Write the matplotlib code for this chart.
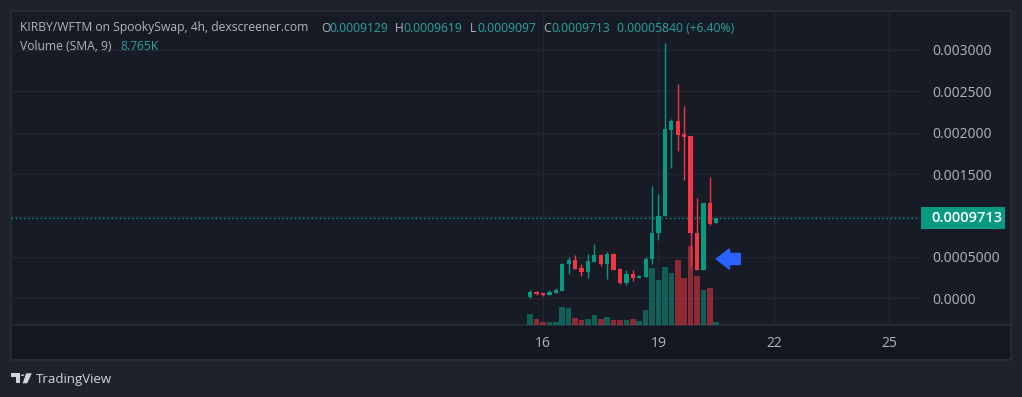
import matplotlib
matplotlib.use("Agg")
import matplotlib.pyplot as plt
import matplotlib.dates as mdates
from matplotlib.patches import Rectangle, Polygon, Circle
from matplotlib.transforms import blended_transform_factory
import pandas as pd

plt.rcParams["font.family"] = ["Open Sans", "DejaVu Sans"]

# ---------------- data ----------------
times = pd.date_range("2024-03-15 16:00", periods=30, freq="4h")
opens = [0.000010, 0.000076, 0.000058, 0.000040, 0.000070, 0.000090, 0.000410, 0.000460,
         0.000370, 0.000320, 0.000440, 0.000520, 0.000410, 0.000540, 0.000350, 0.000185,
         0.000290, 0.000250, 0.000260, 0.000470, 0.000790, 0.001000, 0.002030, 0.002140,
         0.001980, 0.001960, 0.000790, 0.000340, 0.001150, 0.0009129]
highs = [0.000100, 0.000090, 0.000062, 0.000100, 0.000120, 0.000425, 0.000500, 0.000520,
         0.000420, 0.000530, 0.000650, 0.000540, 0.000560, 0.000545, 0.000360, 0.000340,
         0.000340, 0.000280, 0.000500, 0.001360, 0.001260, 0.003088, 0.002160, 0.002590,
         0.002320, 0.001960, 0.001210, 0.001150, 0.001470, 0.0009713]
lows = [0.000005, 0.000045, 0.000030, 0.000035, 0.000068, 0.000090, 0.000290, 0.000350,
        0.000270, 0.000250, 0.000440, 0.000390, 0.000230, 0.000340, 0.000170, 0.000160,
        0.000210, 0.000250, 0.000260, 0.000420, 0.000700, 0.001000, 0.001580, 0.001780,
        0.001430, 0.000390, 0.000340, 0.000340, 0.000880, 0.0009097]
closes = [0.000080, 0.000052, 0.000040, 0.000080, 0.000100, 0.000420, 0.000460, 0.000350,
          0.000320, 0.000450, 0.000520, 0.000410, 0.000540, 0.000340, 0.000185, 0.000290,
          0.000250, 0.000257, 0.000480, 0.000790, 0.001000, 0.002045, 0.002140, 0.001970,
          0.001950, 0.000790, 0.000340, 0.001150, 0.000900, 0.0009713]
volumes = [2100, 1180, 500, 500, 500, 3410, 3100, 1360, 990, 1180, 1860, 1180, 1550, 990,
           990, 870, 1180, 680, 2790, 10540, 8370, 10730, 9610, 12150, 8680, 14760, 9110,
           6450, 6940, 500]

price_ticks = [0.0, 0.0005, 0.001, 0.0015, 0.002, 0.0025, 0.003]
price_labels = ["0.0000", "0.0005000", "", "0.001500", "0.002000", "0.002500", "0.003000"]
day_ticks = [16, 19, 22, 25]

title_main = "KIRBY/WFTM on SpookySwap, 4h, dexscreener.com"
ohlc_legend = [("O", "0.0009129"), ("H", "0.0009619"), ("L", "0.0009097"), ("C", "0.0009713")]
change_text = "0.00005840 (+6.40%)"
vol_legend = ("Volume (SMA, 9)", "8.765K")
arrow_price = 0.000475

# ---------------- style ----------------
W, H = 1022, 397
OUTER = "#1e222d"
PANE = "#171b26"
AXIS_BG = "#131722"
BORDER = "#2a2e39"
GRID = "#222631"
TXT = "#b2b5be"
LEG_GREEN = "#26a69a"
UP = "#089981"
DOWN = "#f23645"

fig = plt.figure(figsize=(W / 100, H / 100), dpi=100, facecolor=OUTER)

def fx(x):
    return x / W

def fy(y):
    return 1 - y / H

# background pane and time strip
fig.add_artist(Rectangle((fx(11), fy(325)), fx(1010) - fx(11), (325 - 11) / H,
                         transform=fig.transFigure, facecolor=PANE, edgecolor="none", zorder=-10))
fig.add_artist(Rectangle((fx(11), fy(359)), fx(1010) - fx(11), (359 - 325) / H,
                         transform=fig.transFigure, facecolor=AXIS_BG, edgecolor="none", zorder=-10))
fig.add_artist(Rectangle((fx(10.5), fy(359.5)), fx(1010.5) - fx(10.5), (359.5 - 10.5) / H,
                         transform=fig.transFigure, facecolor="none", edgecolor=BORDER, lw=1.2, zorder=-9))
fig.add_artist(plt.Line2D([fx(11), fx(1010)], [fy(325), fy(325)], transform=fig.transFigure,
                          color=BORDER, lw=1.2, zorder=-9))

rect = [fx(11), fy(325), fx(920) - fx(11), (325 - 11) / H]
ax_vol = fig.add_axes(rect)
ax = fig.add_axes(rect, sharex=ax_vol)
for a in (ax, ax_vol):
    a.set_facecolor("none")
    for s in a.spines.values():
        s.set_visible(False)

x = mdates.date2num(times)
day0 = mdates.date2num(pd.Timestamp(2024, 3, 16))
px_per_day = 38.5
ax_vol.set_xlim(day0 - 532 / px_per_day, day0 + 377 / px_per_day)

# price scale
ymin, ymax = -26.7 / 82780, 287.3 / 82780
ax.set_ylim(ymin, ymax)
ppx = (ymax - ymin) / 314.0

# volume scale
vmax = max(volumes)
ax_vol.set_ylim(0, vmax * 314 / 79.5)
ax_vol.set_yticks([])

# grid (on lower axes so it sits behind everything)
gtrans = blended_transform_factory(ax_vol.transAxes, ax.transData)
for t in price_ticks:
    ax_vol.plot([0, 1], [t, t], transform=gtrans, color=GRID, lw=1, zorder=0)
ax_vol.set_xticks([mdates.date2num(pd.Timestamp(2024, 3, d)) for d in day_ticks])
ax_vol.set_xticklabels([str(d) for d in day_ticks])
ax_vol.grid(axis="x", color=GRID, lw=1, zorder=0)
ax_vol.tick_params(axis="x", length=0, pad=8, labelcolor=TXT, labelsize=10)
ax.tick_params(axis="x", bottom=False, labelbottom=False)

# volume bars
vcols = [UP if c >= o else DOWN for o, c in zip(opens, closes)]
ax_vol.bar(x, volumes, width=5.6 / px_per_day, color=vcols, alpha=0.55, zorder=2, linewidth=0)

# candles
body_w = 4.3 / px_per_day
for xi, o, h, l, c in zip(x, opens, highs, lows, closes):
    col = UP if c >= o else DOWN
    ax.vlines(xi, l, h, color=col, lw=1.0, zorder=3)
    bottom = min(o, c)
    height = max(abs(c - o), 1.5 * ppx)
    ax.bar(xi, height, bottom=bottom, width=body_w, color=col, linewidth=0, zorder=4)

# last price line
last = closes[-1]
ax.axhline(last, color=UP, lw=1, ls=(0, (1, 2)), zorder=2)

# price axis labels
ax.yaxis.tick_right()
ax.set_yticks(price_ticks)
ax.set_yticklabels(price_labels)
ax.tick_params(axis="y", length=0, pad=8.8, labelcolor=TXT, labelsize=10)

# last price box
btrans = blended_transform_factory(ax.transAxes, ax.transData)
aw = 909.0
ax.add_patch(Rectangle((1 + 1 / aw, last - 11 * ppx), 84 / aw, 22 * ppx, transform=btrans,
                       facecolor=UP, edgecolor="none", clip_on=False, zorder=10))
ax.text(1 + 11.5 / aw, last, f"{last:.7f}", transform=btrans, color="white", fontsize=10.5,
        fontweight="semibold", va="center", ha="left", zorder=11, clip_on=False)

# arrow annotation
ax.annotate("", xy=(x[-1], arrow_price), xytext=(x[-1] + 24 / px_per_day, arrow_price),
            arrowprops=dict(arrowstyle="simple,head_length=9.5,head_width=14.5,tail_width=8",
                            mutation_scale=1, color="#2962ff", shrinkA=0, shrinkB=0),
            zorder=12)

# legend texts
fs = 8.75
fig.text(fx(20), fy(28), title_main, color=TXT, fontsize=fs, va="center", ha="left")
xs = [(321, 329.5), (395, 403.5), (470, 477.5), (543, 551.5)]
for (lab, val), (xl, xv) in zip(ohlc_legend, xs):
    fig.text(fx(xl), fy(28), lab, color=TXT, fontsize=fs, va="center", ha="left")
    fig.text(fx(xv), fy(28), val, color=LEG_GREEN, fontsize=fs, va="center", ha="left")
fig.text(fx(617), fy(28), change_text, color=LEG_GREEN, fontsize=fs, va="center", ha="left")
fig.text(fx(20), fy(46), vol_legend[0], color=TXT, fontsize=fs, va="center", ha="left")
fig.text(fx(120.5), fy(46), vol_legend[1], color=LEG_GREEN, fontsize=fs, va="center", ha="left")

# TradingView logo
LOGO = "#d1d4dc"
def P(pts):
    return [(fx(a), fy(b)) for a, b in pts]
fig.add_artist(Polygon(P([(11, 373.3), (20, 373.3), (20, 383.3), (15.5, 383.3), (15.5, 376.6), (11, 376.6)]),
                       closed=True, transform=fig.transFigure, facecolor=LOGO, edgecolor="none"))
fig.add_artist(Circle((fx(22.6), fy(375.2)), 1.8 / W, transform=fig.transFigure,
                      facecolor=LOGO, edgecolor="none"))
fig.add_artist(Polygon(P([(26.2, 373.3), (31.8, 373.3), (27.2, 383.3), (22.6, 383.3)]),
                       closed=True, transform=fig.transFigure, facecolor=LOGO, edgecolor="none"))
fig.text(fx(35.5), fy(379), "TradingView", color=LOGO, fontsize=9.5, va="center", ha="left")

fig.savefig("out.png", dpi=100, facecolor=OUTER)
